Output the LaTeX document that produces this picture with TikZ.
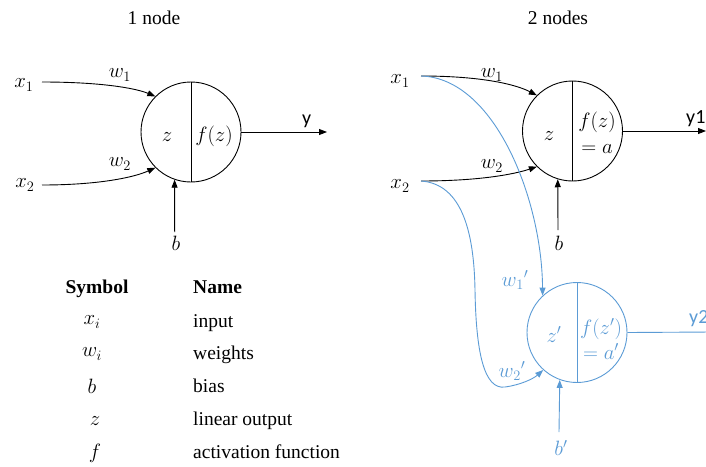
\documentclass[tikz,border=0pt]{standalone}
\usepackage{fontspec}
\setmainfont{Liberation Serif}
\newfontfamily\labelsans{Carlito}
\usetikzlibrary{arrows.meta}
\definecolor{nodeblue}{HTML}{5B9BD5}
\begin{document}
\begin{tikzpicture}[x=1pt,y=-1pt,
  every node/.style={font=\fontsize{19.5}{23}\selectfont, inner sep=0pt},
  mlabel/.style={font=\fontsize{21}{25}\selectfont},
  neuron/.style={draw, circle, minimum size=100pt, line width=0.9pt},
  wire/.style={line width=0.9pt, -{Triangle[length=8pt,width=6pt]}},
  plain/.style={line width=0.9pt},
  outlabel/.style={font=\labelsans\fontsize{20}{24}\selectfont, anchor=base west},
  second/.style={color=nodeblue, text=nodeblue}]
\useasboundingbox (0,0) rectangle (706,466);

% ---------- single neuron ----------
\node (t1) at (154,18) {1 node};
\node[neuron] (c1) at (191,132) {};
\draw[plain] (c1.north) -- (c1.south);
\node[mlabel, anchor=base] (z1) at (167,141) {$z$};
\node[mlabel, anchor=base] (f1) at (214,141) {$f(z)$};

\node[mlabel] (x1a) at (24,85) {$x_1$};
\node[mlabel] (x2a) at (25,185) {$x_2$};
\node[mlabel] (w1a) at (120,75) {$w_1$};
\node[mlabel] (w2a) at (120,164) {$w_2$};
\node[mlabel] (ba) at (176,243) {$b$};
\coordinate (x1as) at (42,82);
\coordinate (x2as) at (42,185);
\coordinate (bas) at (174.7,232);
\coordinate (yaend) at (327,132);
\node[outlabel] (ya) at (302,124) {y};

\draw[wire] (x1as) .. controls (100,82) and (135,88) .. (c1.135);
\draw[wire] (x2as) .. controls (100,185) and (135,177) .. (c1.225);
\draw[wire] (bas) -- (c1.251);
\draw[wire] (c1.east) -- (yaend);

% ---------- symbol table ----------
\node[anchor=base] (hs) at (97,293) {\textbf{Symbol}};
\node[anchor=base west] (hn) at (193,293) {\textbf{Name}};
\node[mlabel] (s1) at (92,322) {$x_i$};
\node[mlabel] (s2) at (92,354) {$w_i$};
\node[mlabel] (s3) at (92,386) {$b$};
\node[mlabel] (s4) at (95,421) {$z$};
\node[mlabel] (s5) at (95,453) {$f$};
\node[anchor=base west] (n1) at (193,327) {input};
\node[anchor=base west] (n2) at (193,359) {weights};
\node[anchor=base west] (n3) at (193,392) {bias};
\node[anchor=base west] (n4) at (193,425) {linear output};
\node[anchor=base west] (n5) at (193,458) {activation function};

% ---------- two neurons: first ----------
\node (t2) at (558,18) {2 nodes};
\node[neuron] (c2) at (572.5,131) {};
\draw[plain] (c2.north) -- (c2.south);
\node[mlabel, anchor=base] (z2) at (549,140) {$z$};
\node[mlabel, anchor=base] (f2) at (597,127) {$f(z)$};
\node[mlabel, anchor=base] (a2) at (597,153) {$=a$};

\node[mlabel] (x1b) at (400,81) {$x_1$};
\node[mlabel] (x2b) at (400,186) {$x_2$};
\node[mlabel] (w1b) at (492,75) {$w_1$};
\node[mlabel] (w2b) at (492,166) {$w_2$};
\node[mlabel] (bb) at (559,243) {$b$};
\coordinate (x1bs) at (421,76);
\coordinate (x2bs) at (421,181);
\coordinate (bbs) at (558,230);
\coordinate (ybend) at (706,131);
\node[outlabel] (yb) at (686,123) {y1};

\draw[wire] (x1bs) .. controls (480,76) and (515,84) .. (c2.135);
\draw[wire] (x2bs) .. controls (480,181) and (515,174) .. (c2.225);
\draw[wire] (bbs) -- (c2.253);
\draw[wire] (c2.east) -- (ybend);

% ---------- two neurons: second ----------
\begin{scope}[second]
\node[neuron, draw=nodeblue] (c3) at (577,332.5) {};
\draw[plain] (c3.north) -- (c3.south);
\node[mlabel, anchor=base] (z3) at (554,342) {$z'$};
\node[mlabel, anchor=base] (f3) at (601,334) {$f(z')$};
\node[mlabel, anchor=base] (a3) at (601,359) {$=a'$};

\node[mlabel] (w1c) at (515,280) {$w_1{}'$};
\node[mlabel] (w2c) at (512,371) {$w_2{}'$};
\node[mlabel] (bc) at (561,448) {$b'$};
\coordinate (bcs) at (559,432);
\coordinate (ycend) at (712,332);
\node[outlabel] (yc) at (689,323) {y2};

\draw[wire] (x1bs) .. controls (495,78) and (542,200) .. (c3.133);
\draw[wire] (x2bs) .. controls (462,184) and (474,232) .. (475,290)
  .. controls (476,352) and (484,390) .. (505,387)
  .. controls (520,385) and (533,379) .. (c3.228);
\draw[wire] (bcs) -- (c3.250);
\draw[plain] (c3.east) -- (ycend);
\end{scope}
\end{tikzpicture}
\end{document}
